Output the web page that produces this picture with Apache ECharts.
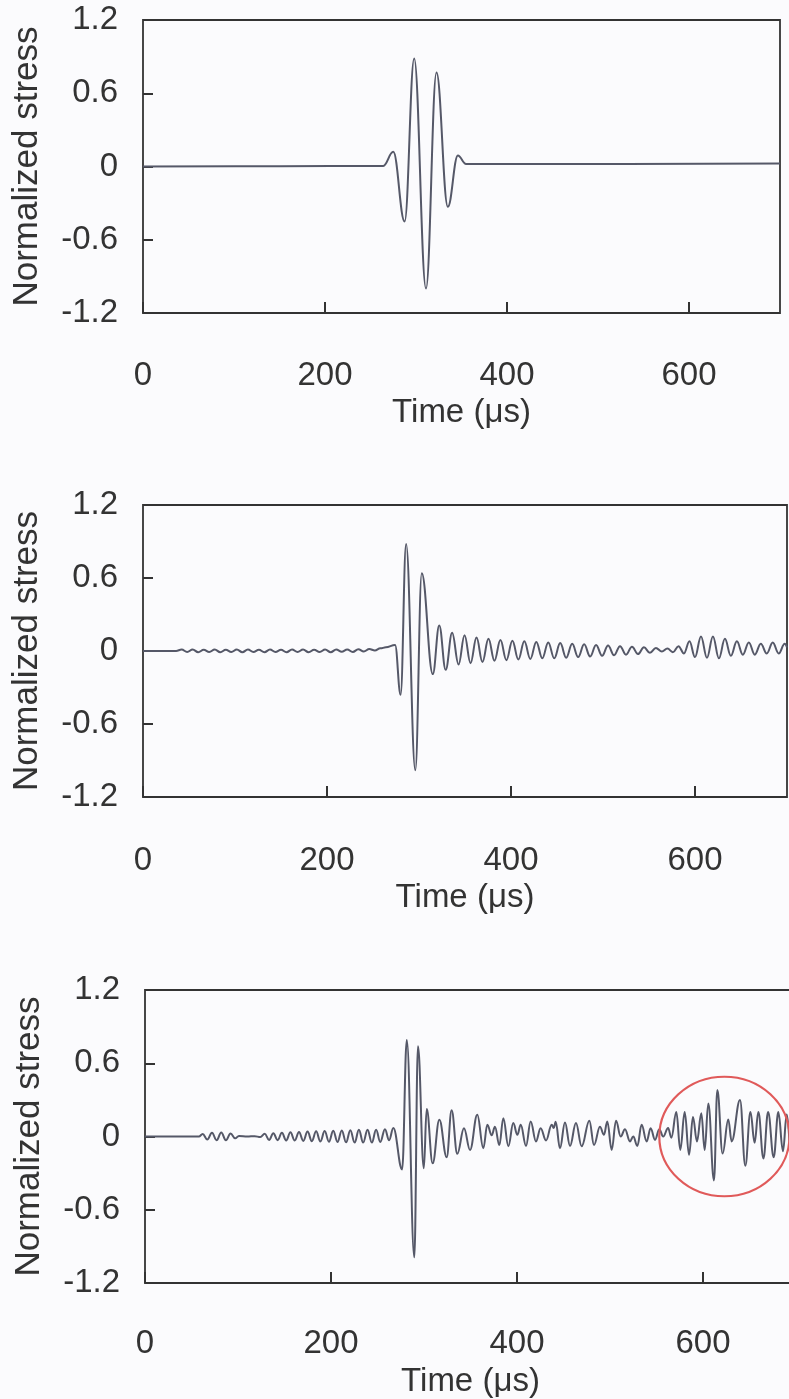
<!DOCTYPE html>
<html>
<head>
<meta charset="utf-8">
<script src="https://cdn.jsdelivr.net/npm/echarts@6/dist/echarts.min.js"></script>
<style>
html,body{margin:0;padding:0;background:#fbfbfd;}
#c{width:789px;height:1399px;}
</style>
</head>
<body>
<div id="c"></div>
<script>
// ---- tick labels / titles ----
const xTickValues = [0, 200, 400, 600];
const yTickValues = [-1.2, -0.6, 0, 0.6, 1.2];
const yTickLabels = ['-1.2', '-0.6', '0', '0.6', '1.2'];
const xTitle = 'Time (μs)';
const yTitle = 'Normalized stress';

// ---- panel 1 (top) ----
const time1 = [0, 150, 264, 275, 287.5, 298, 311, 322.5, 335, 346, 355, 450, 700];
const stress1 = [0, 0.003, 0.005, 0.12, -0.45, 0.885, -1.0, 0.77, -0.33, 0.09, 0.02, 0.02, 0.025];

// ---- panel 2 (middle) ----
const time2 = [
  0, 36, 42, 48, 54, 60, 66, 72, 78, 84,
  90, 96, 102, 108, 114, 120, 126, 132, 138, 144,
  150, 156, 162, 168, 174, 180, 186, 192, 198, 204,
  210, 216, 222, 228, 234, 240, 246, 252, 258, 264,
  274, 280, 286, 296, 303, 315, 322, 329, 336, 343,
  349.5, 356, 362.5, 369, 375.5, 382, 388.5, 395, 401.5, 408,
  414.5, 421, 427.5, 434, 440.5, 447, 453.5, 460, 466.5, 473,
  479.5, 486, 492.5, 499, 505.5, 512, 518.5, 525, 531.5, 538,
  544.5, 551, 557.5, 564, 570, 576, 582, 588, 594, 600,
  606.5, 613, 619.5, 626, 632.5, 639, 645.5, 652, 658.5, 665,
  671.5, 678, 684.5, 691, 697.5, 700
];
const stress2 = [
  0, 0, 0.012, -0.008, 0.012, -0.01, 0.01, -0.008, 0.012, -0.01,
  0.01, -0.008, 0.012, -0.01, 0.012, -0.008, 0.01, -0.01, 0.012, -0.008,
  0.01, -0.01, 0.012, -0.008, 0.012, -0.01, 0.01, -0.008, 0.012, -0.01,
  0.012, -0.006, 0.012, -0.008, 0.014, -0.004, 0.016, 0.004, 0.022, 0.03,
  0.05, -0.36, 0.88, -0.98, 0.64, -0.19, 0.21, -0.155, 0.15, -0.11,
  0.13, -0.1, 0.11, -0.09, 0.1, -0.08, 0.09, -0.075, 0.085, -0.07,
  0.08, -0.065, 0.075, -0.06, 0.07, -0.06, 0.065, -0.055, 0.06, -0.05,
  0.055, -0.045, 0.05, -0.04, 0.045, -0.035, 0.04, -0.03, 0.035, -0.025,
  0.03, -0.015, 0.025, -0.005, 0.02, -0.01, 0.04, -0.02, 0.08, -0.05,
  0.12, -0.055, 0.12, -0.06, 0.1, -0.04, 0.08, -0.03, 0.07, -0.03,
  0.06, -0.02, 0.07, -0.02, 0.06, 0.03
];

// ---- panel 3 (bottom) ----
const time3 = [
  0, 58, 62, 67, 72, 77, 82, 87, 92, 97,
  101, 110, 118, 124, 128.8, 133.4, 138, 142.6, 147.2, 151.8,
  156.4, 161, 165.6, 170.2, 174.8, 179.4, 184, 188.6, 193.2, 197.8,
  202.4, 207, 211.6, 216.2, 220.8, 225.4, 230, 234.6, 239.3, 243.9,
  248.5, 253, 258, 262.5, 267, 276.5, 281.5, 289.6, 293.5, 299.8,
  302.9, 309.3, 316.5, 324.4, 329.7, 335.8, 343, 349.5, 357.3, 363.8,
  368.1, 372.8, 376.3, 381, 385.3, 390.7, 396, 400.4, 404, 409.7,
  414.7, 420.4, 425.4, 431.2, 437.3, 439.5, 441.6, 446.2, 451.6, 457,
  463.4, 469.5, 477.8, 482.8, 489.2, 493.5, 497.1, 501.8, 506.5, 511.5,
  516.1, 521.5, 525, 529.4, 534, 539.4, 543.7, 548.4, 553, 557.2,
  562.5, 566, 571.3, 575.6, 580.3, 585, 589.2, 593.5, 598.2, 601.8,
  605.7, 611.8, 615.4, 621.1, 627.2, 630.8, 639.8, 645.5, 651, 655.5,
  659.5, 665, 670, 676, 681, 686, 690, 695, 700
];
const stress3 = [
  0, 0, 0.02, -0.025, 0.03, -0.03, 0.033, -0.03, 0.025, -0.015,
  0.005, 0, 0.003, -0.005, 0.022, -0.028, 0.027, -0.03, 0.03, -0.032,
  0.034, -0.033, 0.036, -0.036, 0.04, -0.038, 0.042, -0.04, 0.045, -0.043,
  0.048, -0.045, 0.05, -0.048, 0.052, -0.05, 0.055, -0.05, 0.056, -0.05,
  0.055, -0.045, 0.06, -0.03, 0.07, -0.27, 0.79, -0.99, 0.74, -0.26,
  0.225, -0.22, 0.137, -0.17, 0.214, -0.142, 0.068, -0.11, 0.178, -0.096,
  0.096, 0.01, 0.08, -0.07, 0.15, -0.08, 0.11, 0.014, 0.096, -0.077,
  0.123, -0.04, 0.068, -0.033, 0.096, 0.07, 0.12, -0.096, 0.115, -0.077,
  0.11, -0.08, 0.13, -0.07, 0.08, 0.014, 0.123, -0.11, 0.13, 0.0,
  0.06, -0.04, 0.0, -0.077, 0.096, -0.04, 0.068, -0.027, 0.06, 0.0,
  0.07, -0.01, 0.2, -0.11, 0.2, -0.15, 0.16, -0.04, 0.19, -0.11,
  0.27, -0.36, 0.38, -0.14, 0.14, -0.04, 0.3, -0.24, 0.2, -0.05,
  0.2, -0.18, 0.2, -0.17, 0.2, -0.12, 0.18, -0.15, 0.05
];

// highlighted region (panel 3): centre and half-extents in data units
const circleCenter = [623, 0];
const circleHalfSpan = [70, 0.49];

// ---- layout ----
const grids = [
  {left: 143, top: 20, width: 637, height: 293},
  {left: 143, top: 505, width: 644, height: 292},
  {left: 145, top: 990, width: 651, height: 293}
];
const xLabelMargins = [46, 47, 44];
const xNameGaps = [83, 84, 82];
const times = [time1, time2, time3];
const stresses = [stress1, stress2, stress3];

const FONT = 'Liberation Sans, Arial, sans-serif';
const TXT = '#333333';

const chart = echarts.init(document.getElementById('c'));
const option = {
  animation: false,
  backgroundColor: '#fbfbfd',
  textStyle: {fontFamily: FONT},
  grid: grids.map(g => Object.assign({}, g, {
    show: true, borderColor: '#333', borderWidth: 1.8, backgroundColor: 'transparent',
    containLabel: false, outerBoundsMode: 'none'
  })),
  xAxis: grids.map((g, i) => ({
    type: 'value', gridIndex: i, min: 0, max: 700, interval: 200,
    name: xTitle, nameLocation: 'middle', nameGap: xNameGaps[i],
    nameTextStyle: {fontSize: 33, color: TXT, fontFamily: FONT},
    axisLine: {show: false, onZero: false},
    axisTick: {show: true, inside: true, length: 11, lineStyle: {color: '#333', width: 2}},
    splitLine: {show: false},
    axisLabel: {
      margin: xLabelMargins[i], fontSize: 33, color: TXT, fontFamily: FONT, showMaxLabel: false,
      formatter: v => (xTickValues.indexOf(v) >= 0 ? String(v) : '')
    }
  })),
  yAxis: grids.map((g, i) => ({
    type: 'value', gridIndex: i, min: -1.2, max: 1.2, interval: 0.6,
    name: yTitle, nameLocation: 'middle', nameGap: 98, nameRotate: 90,
    nameTextStyle: {fontSize: 35, color: TXT, fontFamily: FONT},
    axisLine: {show: false, onZero: false},
    axisTick: {show: true, inside: true, length: 10, lineStyle: {color: '#333', width: 2}},
    splitLine: {show: false},
    axisLabel: {
      margin: 25, fontSize: 33, color: TXT, fontFamily: FONT,
      formatter: v => {
        let best = 0;
        yTickValues.forEach((t, k) => { if (Math.abs(t - v) < Math.abs(yTickValues[best] - v)) best = k; });
        return yTickLabels[best];
      }
    }
  })),
  series: times.map((t, i) => ({
    type: 'line', xAxisIndex: i, yAxisIndex: i,
    data: t.map((x, k) => [x, stresses[i][k]]),
    showSymbol: false, smooth: 0.4, smoothMonotone: 'x',
    lineStyle: {color: '#555868', width: 2},
    clip: true
  }))
};
chart.setOption(option);

// red ellipse marking the late arrivals in panel 3
const c = chart.convertToPixel({gridIndex: 2}, circleCenter);
const e = chart.convertToPixel({gridIndex: 2}, [circleCenter[0] + circleHalfSpan[0], circleCenter[1] + circleHalfSpan[1]]);
const rx = Math.abs(e[0] - c[0]);
const ry = Math.abs(c[1] - e[1]);
chart.setOption({
  graphic: [{
    type: 'circle', x: c[0], y: c[1], scaleX: rx / ry, scaleY: 1,
    shape: {cx: 0, cy: 0, r: ry},
    style: {fill: 'none', stroke: '#e05a5a', lineWidth: 2}, z: 100
  }]
});
</script>
</body>
</html>
